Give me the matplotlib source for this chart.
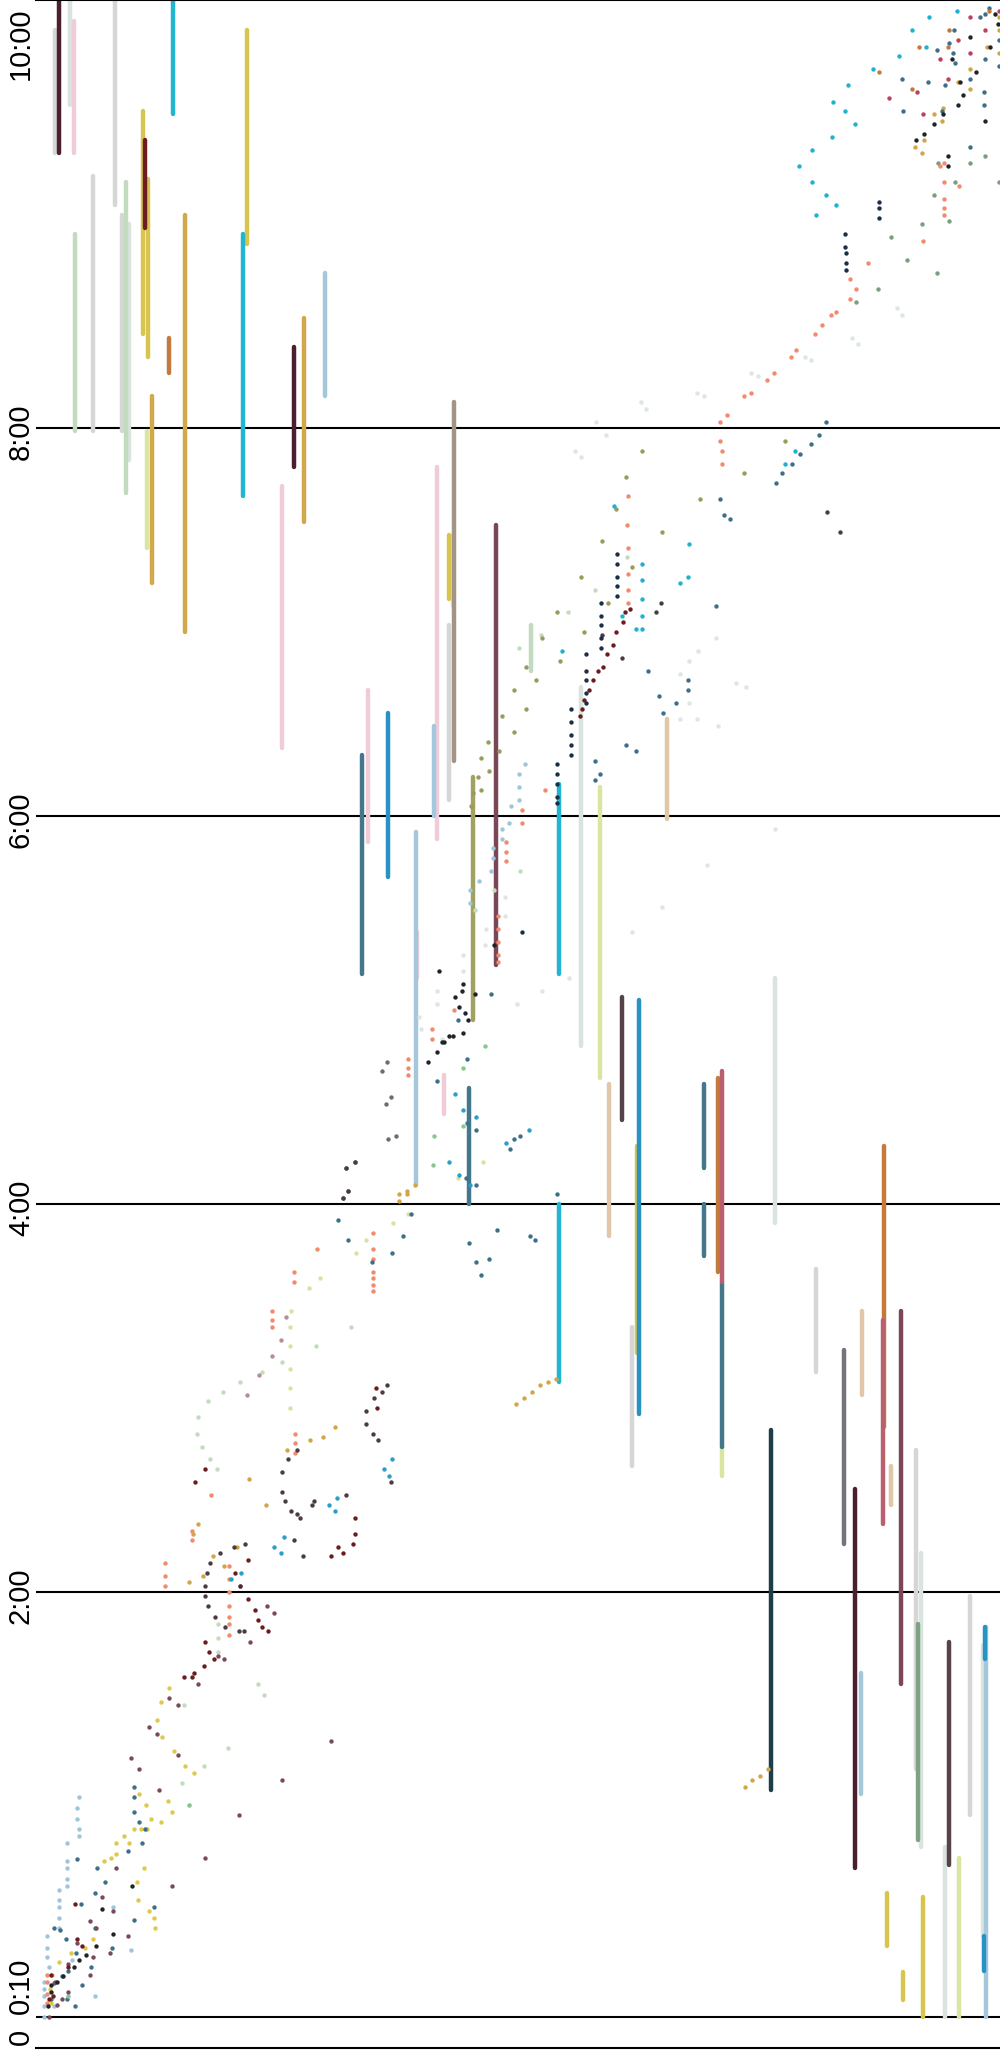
import numpy as np
import matplotlib
matplotlib.use("Agg")
import matplotlib.pyplot as plt
from matplotlib.transforms import offset_copy

# ---- dots: (position along x, elapsed minutes) grouped by colour ----
salmon = [(373, 231), (373, 226), (373, 223), (373, 219), (373, 217), (373, 215), (373, 213),
          (317, 226), (294, 219), (294, 216), (272, 207), (272, 204), (272, 202),
          (295, 169), (295, 166), (295, 163), (211, 150), (192, 139), (192, 136),
          (165, 129), (165, 125), (165, 122),
          (229, 128), (229, 124), (229, 120), (229, 116), (229, 113), (229, 111), (229, 108),
          (944, 562), (940, 561), (944, 556), (959, 555), (944, 551), (944, 548), (944, 546),
          (923, 538), (868, 531), (850, 526), (856, 523), (850, 520), (836, 516), (831, 515),
          (822, 512), (815, 509), (796, 504), (791, 502), (774, 497), (767, 495), (751, 491),
          (744, 490), (727, 484), (720, 482), (720, 476), (722, 473), (722, 469),
          (628, 459), (627, 450), (628, 443), (628, 435), (628, 430), (628, 426),
          (545, 368), (522, 362), (522, 358), (506, 352), (506, 349), (506, 346),
          (498, 329), (498, 325), (498, 321), (498, 317), (498, 315), (454, 300),
          (432, 294), (432, 291), (408, 285), (408, 282), (408, 280),
          (47, 12), (47, 10), (47, 6.5), (47, 4)]

ygreen = [(408, 237), (393, 234), (366, 229), (356, 225), (320, 217), (309, 214), (291, 207),
          (290, 202), (290, 196), (290, 189), (290, 183), (290, 177), (483, 253), (458, 248)]

palegreen = [(351, 202), (316, 196), (282, 191), (262, 188), (240, 185), (223, 182), (208, 179),
             (198, 174), (197, 169), (202, 165), (210, 161), (217, 158), (218, 111), (218, 107),
             (218, 103), (258, 94), (264, 91), (184, 88), (228, 76), (204, 71), (182, 66), (189, 60),
             (627, 440), (595, 430), (568, 423), (541, 416), (519, 412), (520, 343), (494, 337),
             (475, 331)]

mauve = [(286, 205), (281, 198), (272, 193), (259, 187), (247, 181)]

darkgray = [(346, 251), (355, 253), (343, 242), (348, 244), (387, 184), (382, 182), (374, 180),
            (366, 176), (366, 172), (373, 169), (378, 167), (297, 164), (288, 161), (282, 157),
            (282, 151), (285, 148), (291, 145), (297, 144), (300, 143), (312, 147), (314, 148),
            (294, 136), (303, 131), (346, 150), (245, 135), (234, 134), (220, 132), (210, 129),
            (207, 126), (205, 122), (205, 119), (208, 116), (215, 113), (225, 110), (239, 109),
            (244, 109), (391, 154), (827, 454), (840, 448), (661, 426), (656, 423), (622, 409),
            (602, 416)]

darkred = [(376, 183), (377, 177), (205, 158), (195, 154), (248, 130), (235, 126), (240, 122),
           (248, 118), (255, 115), (258, 112), (262, 110), (268, 109), (355, 143), (355, 138),
           (353, 135), (338, 134), (343, 132), (331, 131), (205, 106), (209, 103), (214, 101),
           (204, 99), (194, 97), (192, 96), (184, 96),
           (630, 424), (625, 423), (623, 420), (616, 417), (613, 413), (607, 410), (603, 406),
           (598, 405), (593, 402), (589, 399), (584, 396), (582, 393), (580, 391),
           (75, 32), (77, 22), (82, 20), (68, 14), (51, 12), (53, 6), (49, 5)]

plum = [(267, 116), (274, 114), (250, 106), (224, 101), (218, 102), (198, 94), (169, 90),
        (178, 88), (149, 82), (157, 80), (178, 74), (131, 73), (139, 70), (159, 64), (239, 57),
        (282, 67), (331, 78), (205, 45), (116, 42), (172, 37), (102, 34), (113, 30), (90, 27),
        (128, 23), (96, 25), (77, 21), (93, 17), (110, 18), (90, 12), (68, 15), (55, 10),
        (62, 5), (57, 3.5), (49, 0), (68, 7)]

gold = [(399, 243), (407, 244), (335, 171), (323, 168), (310, 167), (287, 164), (249, 155),
        (266, 147), (198, 141), (193, 138), (213, 131), (224, 128), (237, 134), (203, 125),
        (189, 123), (999, 607), (999, 603), (987, 598), (999, 596), (970, 591), (958, 587),
        (970, 585), (943, 579), (934, 577), (942, 575), (924, 569), (915, 567), (922, 565),
        (415, 246), (407, 243), (399, 241), (516, 178), (524, 180), (532, 182), (540, 184),
        (548, 185), (556, 186), (745, 65), (752, 67), (760, 68), (768, 70)]

yellow = [(169, 93), (161, 89), (157, 84), (162, 79), (174, 75), (185, 71), (194, 69), (168, 61),
          (172, 58), (161, 55), (151, 56), (146, 60), (139, 63), (141, 53), (146, 53), (129, 49),
          (124, 51), (116, 49), (147, 53), (134, 53), (116, 46), (111, 45), (104, 44), (144, 42),
          (137, 38), (138, 33), (149, 30), (154, 28), (155, 25), (93, 22), (85, 19.5), (71, 18),
          (59, 15.5), (52, 12), (50, 8), (51, 4)]

blue = [(392, 161), (384, 158), (389, 156), (337, 149), (329, 147), (335, 145), (284, 137),
        (274, 134), (281, 132), (241, 126), (231, 124), (240, 122), (449, 253), (455, 274),
        (463, 269), (476, 267), (529, 263), (506, 259), (459, 249), (470, 246)]

steel = [(411, 237), (403, 230), (392, 225), (372, 222), (348, 229), (338, 235), (134, 65),
         (134, 62), (134, 58), (139, 55), (145, 53), (142, 49), (128, 47),
         (989, 610), (980, 607), (985, 608), (954, 603), (949, 599), (937, 597), (953, 596),
         (955, 593), (928, 587), (902, 588), (945, 586), (970, 588), (985, 594), (999, 600),
         (999, 592), (984, 584), (984, 580), (942, 578), (903, 578), (970, 567), (826, 482),
         (819, 478), (811, 475), (800, 472), (792, 469), (782, 466), (776, 463), (720, 458),
         (724, 453), (730, 452), (716, 425), (648, 405), (688, 402), (688, 399), (659, 397),
         (676, 395), (663, 392), (626, 382), (636, 380), (595, 377), (600, 373), (595, 371),
         (491, 305), (458, 297), (467, 285), (437, 278), (476, 263), (467, 265), (514, 260),
         (520, 261), (510, 257), (466, 248), (476, 246), (557, 243), (469, 228), (476, 222),
         (481, 218), (489, 223), (497, 232), (530, 230), (535, 229),
         (77, 44.5), (97, 42), (105, 38), (95, 35), (81, 32), (54, 25), (60, 24.5), (154, 31),
         (134, 27.5), (95, 25), (66, 22), (76, 18), (91, 14), (68, 13), (62, 11.5), (54, 9.6),
         (51, 5), (67, 5), (75, 3), (82, 9), (112, 19.5)]

lightblue = [(79, 62), (77, 59), (77, 56), (79, 53), (79, 51), (67, 49), (67, 44), (67, 42),
             (67, 39), (67, 37), (59, 36), (59, 33), (59, 31), (59, 28), (59, 25), (47, 23),
             (47, 19.5), (47, 17), (49, 14), (44, 10), (44, 8), (44, 6), (44, 3), (44, 0),
             (54, 3), (72, 16), (113, 31), (131, 19), (95, 6),
             (525, 376), (519, 373), (519, 369), (519, 365), (511, 363), (509, 358), (502, 356),
             (502, 353), (493, 350), (493, 347), (491, 343), (479, 340), (470, 337), (470, 333)]

green = [(433, 252), (68, 6), (189, 60), (485, 289), (463, 282), (463, 264), (434, 261)]

cyan = [(957, 609), (929, 607), (912, 603), (926, 598), (899, 595), (873, 591), (848, 586),
        (833, 581), (845, 578), (855, 574), (832, 570), (812, 566), (799, 561), (812, 556),
        (826, 552), (836, 549), (816, 546), (785, 469), (795, 473), (614, 456), (689, 444),
        (642, 438), (642, 433), (642, 427), (642, 422), (642, 418), (636, 418), (622, 422),
        (688, 434), (680, 432), (562, 411)]

orange = [(949, 603), (919, 598), (948, 598), (879, 590), (912, 585), (989, 609)]

crimson = [(999, 609), (970, 607), (985, 603), (958, 600), (970, 596), (940, 594), (948, 588),
           (917, 584), (889, 582), (923, 577)]

black = [(995, 608), (998, 605), (970, 601), (990, 598), (952, 594), (976, 590), (960, 587),
         (963, 583), (958, 580), (943, 577), (934, 574), (924, 571), (916, 569), (948, 564),
         (948, 561), (985, 575), (494, 320), (439, 312), (463, 308), (475, 305), (462, 306),
         (455, 304), (459, 301), (465, 299), (468, 297), (463, 293), (453, 292), (449, 292),
         (444, 290), (442, 290), (437, 287), (428, 284),
         (132, 37), (102, 30.5), (113, 23.5), (96, 20), (86, 17.5), (79, 16), (74, 14),
         (63, 11.6), (57, 10), (51, 9), (51, 7), (48, 3)]

navy = [(879, 550), (879, 548), (879, 545), (845, 540), (845, 536), (846, 534), (846, 531),
        (846, 529), (617, 441), (617, 438), (617, 434), (617, 431), (617, 428), (601, 426),
        (601, 422), (601, 419), (601, 415), (601, 412), (586, 410), (586, 405), (586, 402),
        (586, 398), (586, 395), (571, 393), (571, 389), (571, 385), (571, 382), (571, 379),
        (557, 376), (557, 373), (557, 370), (557, 366), (557, 364), (522, 324)]

greengray = [(938, 562), (955, 556), (970, 562), (985, 564), (999, 556), (934, 552), (949, 544),
             (922, 543), (891, 539), (907, 532), (937, 528), (878, 523), (856, 519)]

verylight = [(897, 517), (902, 515), (852, 508), (858, 506), (805, 502), (811, 501), (751, 497),
             (758, 496), (697, 491), (704, 490), (641, 488), (646, 486), (596, 482), (606, 478),
             (575, 473), (581, 471), (716, 415), (698, 411), (689, 408), (680, 404), (689, 395),
             (680, 390), (697, 390), (718, 388), (707, 345), (662, 332), (632, 324), (569, 310),
             (542, 306), (517, 302), (505, 335), (505, 329), (486, 325), (485, 320), (463, 317),
             (463, 312), (437, 306), (437, 302), (419, 298), (421, 294), (442, 291), (736, 401),
             (746, 400), (775, 356)]

olive = [(785, 476), (642, 473), (744, 466), (626, 465), (700, 458), (616, 455), (662, 448),
         (602, 445), (632, 437), (581, 434), (608, 426), (557, 423), (584, 417), (542, 415),
         (560, 408), (526, 406), (536, 402), (514, 399), (526, 393), (502, 391), (514, 386),
         (488, 383), (499, 380), (481, 378), (489, 374), (478, 372), (481, 368), (473, 367),
         (471, 363)]

gray = [(387, 284), (382, 281), (391, 273), (386, 271), (396, 261), (388, 260), (355, 253),
        (346, 251), (348, 244), (343, 242)]

# ---- vertical segments: (position, start minutes, end minutes) grouped by colour ----
seg_lightgray = [(55, 603, 565), (115, 612, 549), (93, 558, 479), (122, 546, 479), (449, 419, 365),
                 (816, 220, 188), (916, 164, 70), (970, 119, 57), (632, 202, 159)]
seg_darkplum = [(59, 612, 565), (294, 505, 468), (855, 152, 42)]
seg_pale = [(70, 612, 580), (129, 543, 470), (581, 400, 289), (775, 310, 234), (921, 132, 48),
            (945, 48, 0), (983, 105, 23), (453, 447, 425)]
seg_pink = [(74, 606, 565), (282, 462, 381), (368, 399, 352), (437, 468, 353), (444, 280, 268),
            (417, 324, 310)]
seg_palegreen = [(75, 540, 479), (126, 556, 460), (531, 419, 405)]
seg_yellow = [(143, 578, 509), (148, 557, 502), (247, 603, 537), (449, 447, 427), (637, 258, 194),
              (923, 34, 0), (887, 35, 20), (903, 12.7, 4.8)]
seg_gold = [(152, 490, 432), (185, 546, 417), (304, 514, 451)]
seg_darkred = [(145, 569, 542)]
seg_cyan = [(173, 612, 577), (243, 540, 459), (559, 370, 311), (559, 240, 185)]
seg_orange = [(169, 508, 497), (718, 279, 219), (884, 258, 171)]
seg_ygreen = [(147, 479, 443), (600, 369, 279), (959, 45, 0), (722, 165, 156)]
seg_lightblue = [(325, 528, 490), (416, 355, 246), (434, 388, 360), (861, 97, 63), (986, 110, 0)]
seg_steel = [(362, 379, 311), (469, 276, 240), (704, 277, 251), (704, 240, 224), (722, 216, 165)]
seg_blue = [(388, 392, 341), (639, 303, 175), (984, 23, 13), (985, 110, 101)]
seg_taupe = [(454, 488, 377)]
seg_olive = [(473, 372, 297)]
seg_plum = [(496, 450, 314), (901, 207, 94)]
seg_tan = [(667, 390, 359), (609, 277, 230), (862, 207, 181), (891, 159, 147)]
seg_dark = [(622, 304, 266), (949, 106, 43)]
seg_rose = [(722, 281, 216), (883, 204, 141)]
seg_navy = [(771, 170, 64)]
seg_graydark = [(844, 195, 135)]
seg_greengray = [(918, 111, 50)]

dot_groups = [
    (verylight, '#dde6e1'), (palegreen, '#c3dbbf'), (ygreen, '#d9e3a1'), (lightblue, '#9ec5da'),
    (mauve, '#b48e96'), (olive, '#9a9a5a'), (greengray, '#7a9e7e'), (gray, '#6c6c72'),
    (salmon, '#f28a6e'), (gold, '#d2a648'), (yellow, '#e0c84a'), (cyan, '#1db3d0'),
    (blue, '#2b9dcb'), (steel, '#3d6e8a'), (orange, '#c4793c'), (crimson, '#c0405a'),
    (green, '#86c98e'), (plum, '#7a4a5c'), (darkred, '#6b1c20'), (darkgray, '#4a3c42'),
    (navy, '#1a2f48'), (black, '#1f2428'),
]

seg_groups = [
    (seg_lightgray, '#d6d6d6'), (seg_pale, '#d9e4df'), (seg_pink, '#f0ccd9'),
    (seg_palegreen, '#c2dbbf'), (seg_ygreen, '#d9e5a3'), (seg_lightblue, '#a4c7db'),
    (seg_tan, '#dfc7a8'), (seg_yellow, '#d8c550'), (seg_gold, '#d1a84a'),
    (seg_orange, '#c47a3e'), (seg_taupe, '#a39585'), (seg_olive, '#a1a162'),
    (seg_cyan, '#22b5d2'), (seg_blue, '#2893c2'), (seg_steel, '#45778c'),
    (seg_rose, '#b9606f'), (seg_graydark, '#74747a'), (seg_greengray, '#7ea282'),
    (seg_plum, '#7b4656'), (seg_dark, '#574249'), (seg_darkred, '#6e1c22'),
    (seg_darkplum, '#4a1f30'), (seg_navy, '#1e3d4a'),
]

hour_ticks = [-4.5, 10, 120, 240, 360, 480, 600]
hour_labels = ['0', '0:10', '2:00', '4:00', '6:00', '8:00', '10:00']
grid_at = [0, 120, 240, 360, 480]


# first two hours are drawn a bit taller than the rest
def fwd(t):
    t = np.asarray(t, dtype=float)
    return np.where(t < 120, t * 1.0954, 131.45 + (t - 120))


def inv(u):
    u = np.asarray(u, dtype=float)
    return np.where(u < 131.45, u / 1.0954, u - 131.45 + 120)


fig = plt.figure(figsize=(10, 20.6), dpi=100)
ax = fig.add_axes([0.036, 12 / 2060, 0.964, 2048 / 2060])
ax.set_yscale('function', functions=(fwd, inv))
ax.set_xlim(36, 1000)
ax.set_ylim(-8.75, 612.4)

for t in grid_at:
    ax.axhline(t, color='black', lw=1.5, zorder=1)

for segs, col in seg_groups:
    xs = [s[0] for s in segs]
    ax.vlines(xs, [s[1] for s in segs], [s[2] for s in segs], colors=col,
              lw=3.2, capstyle='round', zorder=2)

for pts, col in dot_groups:
    ax.scatter([p[0] for p in pts], [p[1] for p in pts], s=10, color=col,
               linewidths=0, zorder=3)

for side in ['left', 'right']:
    ax.spines[side].set_visible(False)
for side in ['top', 'bottom']:
    ax.spines[side].set_linewidth(1.5)

ax.set_xticks([])
ax.set_yticks([])
ax.yaxis.set_minor_locator(matplotlib.ticker.NullLocator())

# hour labels, rotated, just left of the plot area
lab_tr = offset_copy(ax.get_yaxis_transform(), fig=fig, x=-1, y=-4, units='dots')
for t, lab in zip(hour_ticks, hour_labels):
    ax.text(0, t, lab, transform=lab_tr, rotation=90, ha='right', va='center',
            fontsize=21, family='Liberation Sans', clip_on=False)

fig.savefig('out.png', dpi=100)
